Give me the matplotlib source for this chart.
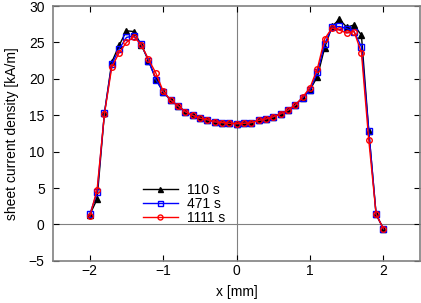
import numpy as np
import matplotlib
matplotlib.use('Agg')
import matplotlib.pyplot as plt

# x positions [mm]
x = np.round(np.arange(-2.0, 2.01, 0.1), 1)

# sheet current density [kA/m]
j_110 = [1.3, 3.5, 15.3, 22.3, 24.6, 26.6, 26.5, 24.7, 22.5, 20.0, 18.2,
         17.1, 16.3, 15.5, 15.0, 14.6, 14.4, 14.1, 14.0, 13.9, 13.85,
         13.9, 14.0, 14.3, 14.5, 14.8, 15.2, 15.7, 16.4, 17.4, 18.5,
         20.3, 24.3, 27.2, 28.2, 27.1, 27.4, 26.0, 12.9, 1.4, -0.6]
j_471 = [1.4, 4.4, 15.3, 22.0, 24.1, 25.7, 25.9, 24.8, 22.5, 19.9, 18.2,
         17.1, 16.3, 15.5, 15.0, 14.6, 14.4, 14.1, 14.0, 13.9, 13.85,
         13.9, 14.0, 14.3, 14.5, 14.8, 15.2, 15.7, 16.4, 17.4, 18.5,
         20.9, 24.8, 27.1, 27.2, 26.9, 26.5, 24.4, 12.9, 1.4, -0.6]
j_1111 = [1.1, 4.8, 15.2, 21.6, 23.6, 25.0, 25.8, 24.7, 22.7, 20.8, 18.3,
          17.1, 16.3, 15.5, 15.0, 14.6, 14.4, 14.1, 14.0, 13.9, 13.85,
          13.9, 14.0, 14.3, 14.5, 14.8, 15.2, 15.7, 16.4, 17.5, 18.8,
          21.4, 25.5, 27.0, 26.7, 26.3, 26.5, 23.6, 11.6, 1.4, -0.6]

plt.rcParams['font.family'] = 'Liberation Sans'
plt.rcParams['font.size'] = 10

fig = plt.figure(figsize=(4.21, 3.03), dpi=100)
ax = fig.add_axes([0.126, 0.139, 0.872, 0.841])

ax.axhline(0, color='#808080', lw=0.8, zorder=1)
ax.axvline(0, color='#808080', lw=0.8, zorder=1)

ax.plot(x, j_110, color='black', lw=1, marker='^', ms=4, mfc='black', mec='black', label='110 s')
ax.plot(x, j_471, color='blue', lw=1, marker='s', ms=4, mfc='none', mec='blue', label='471 s')
ax.plot(x, j_1111, color='red', lw=1, marker='o', ms=4, mfc='none', mec='red', label='1111 s')

ax.set_xlim(-2.5, 2.5)
ax.set_ylim(-5, 30)
ax.set_xticks([-2, -1, 0, 1, 2])
ax.set_yticks(range(-5, 31, 5))
ax.set_xlabel('x [mm]', labelpad=5)
ax.set_ylabel('sheet current density [kA/m]', labelpad=7)

for s in ax.spines.values():
    s.set_color('#808080')
    s.set_linewidth(1.2)
ax.tick_params(direction='in', top=True, right=True, length=4, color='black')
ax.tick_params(axis='x', pad=2)
ax.tick_params(axis='y', pad=6)

ax.legend(loc='lower left', bbox_to_anchor=(0.245, 0.14), frameon=False,
          handlelength=2.5, labelspacing=0.0, handletextpad=0.7, fontsize=10,
          borderaxespad=0, borderpad=0, markerscale=0.9)

fig.savefig('out.png', dpi=100)
